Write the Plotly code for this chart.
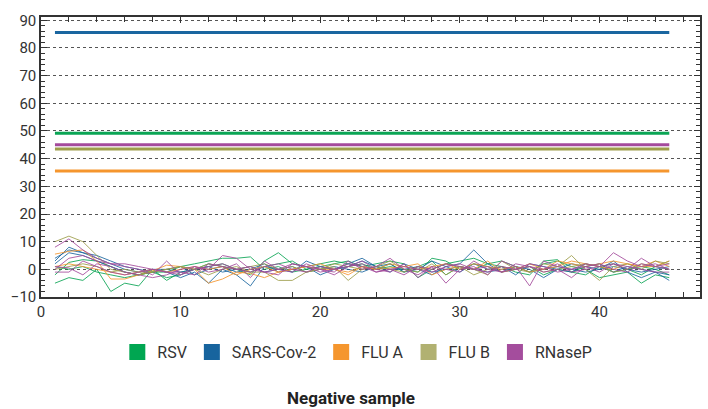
import plotly.graph_objects as go

series_names = ["RSV", "SARS-Cov-2", "FLU A", "FLU B", "RNaseP"]
line_colors = ["#0aa554", "#1a66a0", "#f5962e", "#9e9e4a", "#a44a9c"]
legend_colors = ["#00a651", "#17649e", "#f5962e", "#b1b171", "#a44d9d"]

# threshold levels (horizontal lines from sample 1 to 45)
thresholds = [49.2, 85.6, 35.5, 43.5, 45.0]
thr_start, thr_end = 1, 45

# negative sample traces per series
rsv = [
    [-5, -3, -4, 0, -8, -5, -6, 0, -4, -1, 0, 2, 1, 0, -2, 3, 6, 2, 1, 2, 3, 2, 1, 0, 2, -1, 1, 3, -2, 1, 0, 2, 3, 1, -1, 2, 3, 1, 0, -3, -2, -1, -5, -2, -3],
    [-2, 2.5, 3.5, 3, 1, -1, -2, -1, -1, 1, 2, 3, 4, 4, 4.5, 0, 1, -1, 0, 1, 2, 3, 1, 2, 3, 2, -3, 0, 2, 3, 4, 2, 1, -1, -2, 3, 3.5, -1, -2, 1, 2, 0, 1, 0, -2],
    [1, 0, 1, -1, -2, -3, -2, -1, -3, -2, 0, 1, 2, 0, -1, 1, 2, 3, 0, 1, 0, 1, 2, 0, 1, 0, -1, 4, 3, 0, 2, 1, -1, 0, 1, -2, 0, -1, 1, 2, -1, 0, -2, 1, 0],
]
sars = [
    [3, 8, 6, 4, 2, 0, -1, 0, -1, -3, -1, -5, 0, -2, -6, 1, 0, -1, 3, 1, 0, 2, 4, 1, -1, 2, 0, -2, 1, 2, 7, 2, -1, 1, 0, -3, 0, 2, 1, 0, 3, -1, -3, -1, -4],
    [4, 7, 6, 5, 3, 1, 0, -1, 0, 1, -2, 0, 1, -1, 0, 2, -1, 0, 1, -2, 0, 1, 3, 1, 2, -1, 0, 3, 1, -1, 2, 0, 1, -2, 2, 1, 0, -1, 2, 1, -1, 1, 0, -1, -2],
    [2, 6, 5, 3, 1, -1, -2, 0, 0, -1, 0, 1, -1, 0, 1, -1, 0, 1, -1, 0, 1, 0, -1, 1, 0, 0, 1, -1, 0, 1, 0, -1, 0, 1, -1, 0, 1, 0, -1, 0, 1, 0, -1, 0, 1],
]
flua = [
    [5.5, 6.5, 7, 3, -3.5, -3.5, -2, -0.5, 1.5, 1, 0, -5, -3.5, -1, -1.5, -3, -1, 0, 1, 0, 0, -2, 1, 0, 0.5, 1, 2, -2, 0, 1, 0, 3, -1, 0, 2, 0, 3, 2, 1, 2, 3, 2, 1, 1, 3],
    [1, 2, 1, 0, -1, -2, -1, 0, -1, 0, 1, 0, 1, -2, 0, 1, -1, 0, 1, 2, 0, -1, 1, 0, 2, 1, 0, 1, 2, 0, 2, 1, 0, 1, -1, 0, 1, 3, 2, 1, 0, 2, 1, 3, 1],
]
flub = [
    [10, 12, 10, 5, 0, -1, -2, -1, 0, 1, 0, -2, 0, 1, -1, -1, -4, -4, -1, 0, 1, -4, 0, 1, 3, 0, -1, 2, -2, 1, 0, -2, 3, 0, -1, 2, 1, 5, 0, -4, 1, 2, 0, 3, 2],
    [0, 1, 2, 1, -1, 0, -1, -1, 0, 1, 0, 2, 1, 0, 1, 2, 0, 1, -1, 0, 2, 1, 0, 1, 0, -1, 1, 0, 2, 1, -2, 0, 1, 0, 1, -1, 0, 1, 2, 1, -1, 0, 2, 1, 3],
]
rnasep = [
    [8, 11, 7, 4, 2, 1, 0, -2, 3, -2, 1, 0, 5, 4, 0, -1, -2, 2, 1, 0, -1, 3, 0, 1, 4, 0, -2, 1, -5, 0, 1, -2, 3, 1, -6, 3, 1, 0, 2, 1, 6, 3, 1, 2, 0],
    [1, 0.5, -2, 2, 1, -1, -2, -3, -2, 0, 1, -1, 0, 2, -3, 3, 0, -1, 2, 0, -2, 1, 3, 0, -1, 2, -3, 1, 0, -1, 3, 0, -1, 2, 1, -1, 0, -3, 1, -1, 2, 0, 4, 1, 2],
    [-1, -1, 3, 1, -1, -2, -1, 0, -1, -2, 0, 1, 2, 0, 1, -1, 0, 2, 1, -1, 0, 2, 1, -1, 0, -2, 1, 0, 2, 1, 0, -1, 1, 0, 2, 1, -1, 0, 1, 2, 0, -1, 2, 1, 0],
    [0, 4, 5, 3, 2, 2, 1, 0, -1, -1, -2, 2, 1, 0, -1, 1, 2, 0, -1, 1, 0, 1, 2, -1, 0, 1, 0, -1, 1, 2, 0, 1, -1, 0, 1, 0, 2, -1, 0, 1, 2, 1, 0, -1, -1],
]
all_series = [rsv, sars, flua, flub, rnasep]

x_ticks = [0, 10, 20, 30, 40]
y_ticks = [-10, 0, 10, 20, 30, 40, 50, 60, 70, 80, 90]

FONT = "Roboto, Liberation Sans, sans-serif"

fig = go.Figure()

# noisy traces
for name, col, group in zip(series_names, line_colors, all_series):
    for vals in group:
        fig.add_trace(go.Scatter(
            x=list(range(1, len(vals) + 1)), y=vals, mode="lines",
            line=dict(color=col, width=1), opacity=0.85,
            showlegend=False, hoverinfo="skip"))

# threshold lines
for name, col, thr in zip(series_names, line_colors, thresholds):
    fig.add_trace(go.Scatter(
        x=[thr_start, thr_end], y=[thr, thr], mode="lines",
        line=dict(color=col, width=3), showlegend=False))

# legend entries as squares
for name, col in zip(series_names, legend_colors):
    fig.add_trace(go.Scatter(
        x=[None], y=[None], mode="markers", name=name,
        marker=dict(symbol="square", size=17, color=col)))

axis_common = dict(
    showline=True, linecolor="#333", linewidth=1.5, mirror="ticks",
    ticks="inside", ticklen=6, tickcolor="#333", tickwidth=1,
    zeroline=False, automargin=False,
    tickfont=dict(size=15, color="#333", family=FONT),
)

fig.update_xaxes(
    range=[0, 47.2], tickvals=x_ticks, showgrid=False,
    minor=dict(dtick=2, tick0=0, ticks="inside", ticklen=5, tickcolor="#333", showgrid=False),
    **axis_common)
fig.update_yaxes(
    range=[-10, 91.2], tickvals=y_ticks, showgrid=True,
    gridcolor="#555", gridwidth=1, griddash="dot",
    minor=dict(dtick=2, tick0=0, ticks="inside", ticklen=4, tickcolor="#333", showgrid=False),
    **axis_common)

fig.update_layout(
    width=708, height=409,
    margin=dict(l=41, r=8, t=17, b=112, autoexpand=False),
    plot_bgcolor="white", paper_bgcolor="white",
    font=dict(family=FONT, color="#333"),
    legend=dict(orientation="h", x=0.48, xanchor="center", y=-0.197, yanchor="middle",
                font=dict(size=16, family=FONT, color="#333"), itemsizing="trace",
                itemwidth=30, tracegroupgap=0),
    annotations=[dict(text="<b>Negative sample</b>", x=0.47, xref="paper", y=-0.362,
                      yref="paper", xanchor="center", yanchor="middle", showarrow=False,
                      font=dict(size=17, family=FONT, color="#222"))],
)

fig.write_html("out.html", config={"displayModeBar": False},
               post_script="document.body.style.margin='0';")
